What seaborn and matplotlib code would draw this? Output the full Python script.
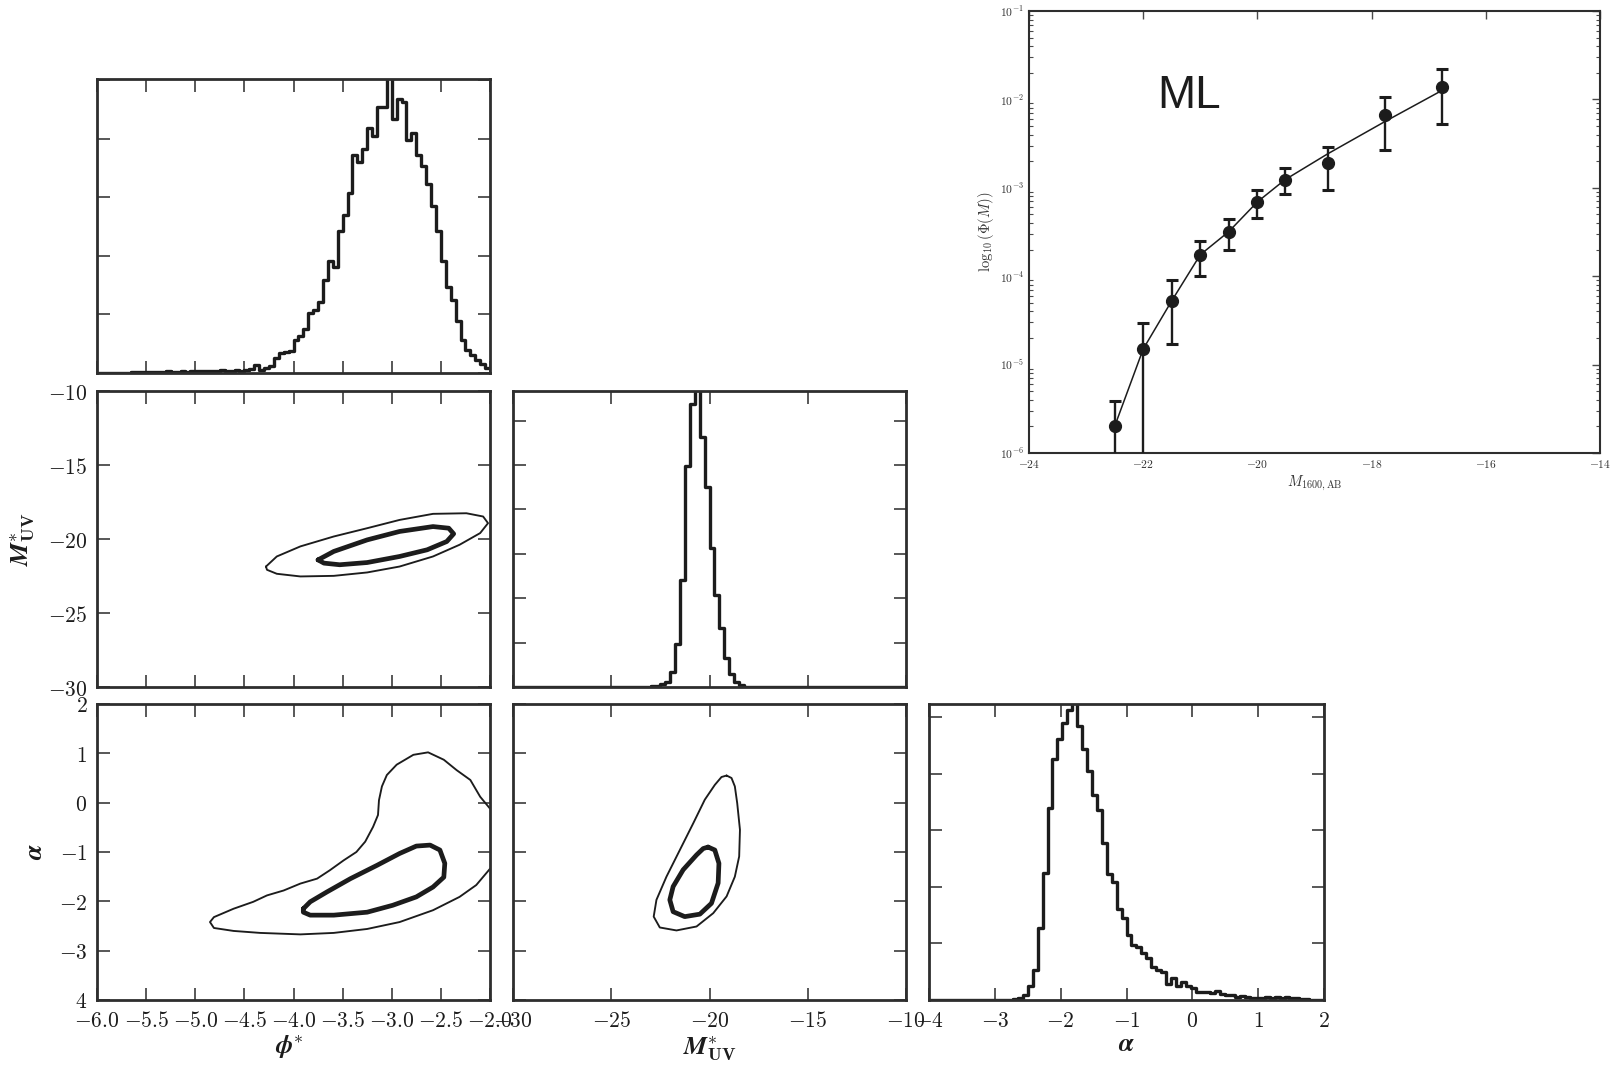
import numpy as np
import matplotlib
matplotlib.use("Agg")
import matplotlib.pyplot as plt
import matplotlib.ticker as mticker
import seaborn as sns

# ---------------- data ----------------
# 1D marginal histograms (80 bins each)
phi_range = (-6.0, -2.0)
phi_hist = [0, 0, 0, 0, 0, 0, 0,
            0.01, 0.02, 0.01, 0.02, 0.02, 0.01, 0.02, 0.03, 0.02, 0.02, 0.03, 0.02,
            0.03, 0.04, 0.03, 0.04, 0.03, 0.04, 0.05, 0.04, 0.04, 0.05, 0.04,
            0.05, 0.06, 0.14, 0.05, 0.08, 0.12, 0.26, 0.34, 0.36, 0.37,
            0.57, 0.64, 0.75, 1.02, 1.07, 1.22, 1.59, 1.92, 1.81, 2.42,
            2.70, 3.08, 3.73, 3.61, 3.82, 4.18, 4.05, 4.54, 4.54, 5.40,
            4.34, 4.67, 4.63, 3.98, 4.09, 3.73, 3.54, 3.22, 2.85, 2.42,
            1.92, 1.46, 1.25, 0.88, 0.57, 0.40, 0.30, 0.23, 0.16, 0.09]

muv_range = (-30.0, -10.0)
muv_hist = [0] * 26 + [0.01, 0.01, 0.02, 0.03, 0.06, 0.11, 0.34, 0.98, 2.42, 4.98,
                       6.38, 7.0, 5.64, 4.50, 3.14, 2.07, 1.32, 0.65, 0.30, 0.11,
                       0.04, 0.01, 0.01] + [0] * 31

alpha_range = (-4.0, 2.0)
alpha_hist = [0] * 17 + [0.01, 0.03, 0.09, 0.24, 0.53, 1.27, 2.25, 3.39, 4.25, 4.61,
                         4.90, 5.13, 5.5, 4.84, 4.44, 4.04, 3.63, 3.36, 2.77, 2.22,
                         2.09, 1.61, 1.45, 1.15, 0.97, 0.94, 0.83, 0.74, 0.58, 0.53,
                         0.50, 0.29, 0.38, 0.24, 0.31, 0.25, 0.21, 0.15, 0.15, 0.14,
                         0.12, 0.16, 0.10, 0.09, 0.08, 0.06, 0.07, 0.05, 0.04, 0.03,
                         0.035, 0.05, 0.03, 0.06, 0.04, 0.05, 0.035, 0.03, 0.01, 0.01] + [0] * 3

# 2D credible contours (outer = thin, inner = thick)
pm_outer_x = [-4.28, -4.17, -3.93, -3.59, -3.25, -2.92, -2.58, -2.24, -2.07, -2.02, -2.10,
              -2.31, -2.58, -2.92, -3.25, -3.59, -3.93, -4.17, -4.27]
pm_outer_y = [-21.86, -21.18, -20.50, -19.83, -19.27, -18.71, -18.30, -18.26, -18.48, -18.93,
              -19.60, -20.39, -21.18, -21.86, -22.26, -22.49, -22.53, -22.35, -22.08]
pm_inner_x = [-3.75, -3.59, -3.25, -2.92, -2.58, -2.42, -2.37, -2.44, -2.64, -2.92, -3.25, -3.53, -3.69]
pm_inner_y = [-21.41, -20.84, -20.06, -19.49, -19.16, -19.27, -19.65, -20.17, -20.73, -21.18,
              -21.59, -21.74, -21.63]

pa_outer_x = [-2.00, -2.10, -2.20, -2.34, -2.47, -2.63, -2.78, -2.95, -3.05, -3.10, -3.13,
              -3.14, -3.19, -3.27, -3.36, -3.49, -3.63, -3.76, -3.93, -4.10, -4.27, -4.41,
              -4.61, -4.81, -4.85, -4.81, -4.61, -4.34, -3.93, -3.59, -3.25, -2.92, -2.58,
              -2.31, -2.14, -2.00]
pa_outer_y = [-0.12, 0.12, 0.46, 0.66, 0.87, 1.02, 0.97, 0.77, 0.56, 0.33, 0.05,
              -0.25, -0.49, -0.79, -1.00, -1.17, -1.37, -1.54, -1.64, -1.78, -1.88, -2.01,
              -2.15, -2.32, -2.42, -2.54, -2.60, -2.64, -2.67, -2.64, -2.56, -2.42, -2.18,
              -1.91, -1.67, -1.34]
pa_inner_x = [-3.90, -3.83, -3.66, -3.42, -3.15, -2.92, -2.75, -2.61, -2.51, -2.46, -2.47,
              -2.58, -2.75, -2.99, -3.25, -3.59, -3.83, -3.90]
pa_inner_y = [-2.15, -2.01, -1.81, -1.54, -1.27, -1.03, -0.88, -0.86, -0.96, -1.23, -1.51,
              -1.71, -1.91, -2.08, -2.22, -2.28, -2.28, -2.22]

ma_outer_x = [-19.13, -18.88, -18.71, -18.59, -18.45, -18.49, -18.71, -19.13, -19.81, -20.66,
              -21.68, -22.53, -22.84, -22.70, -22.19, -21.51, -20.83, -20.24, -19.73, -19.39]
ma_outer_y = [0.55, 0.50, 0.33, -0.01, -0.55, -1.09, -1.50, -1.90, -2.24, -2.51,
              -2.59, -2.53, -2.31, -1.97, -1.50, -0.96, -0.42, 0.06, 0.36, 0.52]
ma_inner_x = [-20.07, -19.73, -19.52, -19.56, -19.90, -20.49, -21.26, -21.85, -22.02, -21.85,
              -21.34, -20.66, -20.32]
ma_inner_y = [-0.90, -0.96, -1.23, -1.63, -2.04, -2.26, -2.31, -2.21, -1.97, -1.70,
              -1.36, -1.06, -0.93]

# luminosity function (inset)
lf_mag = [-22.5, -22.0, -21.5, -21.0, -20.5, -20.0, -19.52, -18.77, -17.77, -16.77]
lf_phi = [2.0e-6, 1.5e-5, 5.27e-5, 1.75e-4, 3.2e-4, 6.93e-4, 1.23e-3, 1.9e-3, 6.67e-3, 1.37e-2]
lf_hi = [3.9e-6, 2.92e-5, 8.95e-5, 2.53e-4, 4.42e-4, 9.4e-4, 1.67e-3, 2.9e-3, 1.07e-2, 2.21e-2]
lf_lo = [1e-7, 1e-7, 1.71e-5, 1.01e-4, 1.99e-4, 4.5e-4, 8.47e-4, 9.4e-4, 2.68e-3, 5.24e-3]
lf_model = [2.0e-6, 1.5e-5, 5.27e-5, 1.75e-4, 3.2e-4, 6.93e-4, 1.23e-3, 2.42e-3, 5.6e-3, 1.26e-2]

# tick labels
phi_ticks = [-6.0, -5.5, -5.0, -4.5, -4.0, -3.5, -3.0, -2.5, -2.0]
phi_labels = ["$-6.0$", "$-5.5$", "$-5.0$", "$-4.5$", "$-4.0$", "$-3.5$", "$-3.0$", "$-2.5$", "$-2.0$"]
muv_ticks = [-30, -25, -20, -15, -10]
muv_labels = ["$-30$", "$-25$", "$-20$", "$-15$", "$-10$"]
alpha_ticks = [-4, -3, -2, -1, 0, 1, 2]
alpha_xlabels = ["$-4$", "$-3$", "$-2$", "$-1$", "$0$", "$1$", "$2$"]
alpha_ylabels = ["$4$", "$-3$", "$-2$", "$-1$", "$0$", "$1$", "$2$"]
lf_xticks = [-24, -22, -20, -18, -16, -14]
lf_xlabels = ["$-24$", "$-22$", "$-20$", "$-18$", "$-16$", "$-14$"]
lf_yticks = [1e-6, 1e-5, 1e-4, 1e-3, 1e-2, 1e-1]
lf_ylabels = ["$10^{-6}$", "$10^{-5}$", "$10^{-4}$", "$10^{-3}$", "$10^{-2}$", "$10^{-1}$"]

# ---------------- style ----------------
sns.set_style("white")
plt.rcParams["font.family"] = ["DejaVu Serif"]
plt.rcParams["mathtext.fontset"] = "cm"

INK = "#1c1c1c"
SPINE = "#2e2e2e"
TICK = "#4a4a4a"
FS = 15.5

fig = plt.figure(figsize=(16.18, 10.65), dpi=100)
W, H = 1618.0, 1065.0


def add_axes(l, t, r, b):
    return fig.add_axes([l / W, 1 - b / H, (r - l) / W, (b - t) / H])


col = [(97, 490), (513, 906), (929, 1324)]
row = [(79, 373), (391, 687), (704, 1000)]

ax_phi = add_axes(col[0][0], row[0][0], col[0][1], row[0][1])
ax_pm = add_axes(col[0][0], row[1][0], col[0][1], row[1][1])
ax_muv = add_axes(col[1][0], row[1][0], col[1][1], row[1][1])
ax_pa = add_axes(col[0][0], row[2][0], col[0][1], row[2][1])
ax_ma = add_axes(col[1][0], row[2][0], col[1][1], row[2][1])
ax_alpha = add_axes(col[2][0], row[2][0], col[2][1], row[2][1])
ax_lf = add_axes(1029, 11, 1600, 453)


def style_axes(ax, lw=2.0, length=9):
    for s in ax.spines.values():
        s.set_linewidth(lw)
        s.set_color(SPINE)
        s.set_visible(True)
    ax.tick_params(which="major", direction="in", length=length, width=1.3, color=TICK,
                   top=True, right=True, bottom=True, left=True,
                   labelsize=FS, labelcolor=INK, pad=7)


def draw_hist(ax, values, rng, ylim):
    n = len(values)
    width = (rng[1] - rng[0]) / n
    centers = rng[0] + width * (np.arange(n) + 0.5)
    sns.histplot(x=centers, weights=np.asarray(values, float), bins=n, binrange=rng,
                 element="step", fill=False, color=INK, linewidth=2.4, ax=ax)
    ax.set_xlim(rng)
    ax.set_ylim(0, ylim)
    ax.set_xlabel("")
    ax.set_ylabel("")


def draw_contour(ax, xs, ys, lw, closed=True):
    xs = list(xs)
    ys = list(ys)
    if closed:
        xs = xs + xs[:1]
        ys = ys + ys[:1]
    sns.lineplot(x=xs, y=ys, sort=False, estimator=None, color=INK, linewidth=lw,
                 ax=ax, solid_joinstyle="round", solid_capstyle="round")


# ---- marginal histograms ----
draw_hist(ax_phi, phi_hist, phi_range, 5.02)
ax_phi.set_xticks(phi_ticks)
ax_phi.set_yticks([0, 1, 2, 3, 4, 5])

draw_hist(ax_muv, muv_hist, muv_range, 6.67)
ax_muv.set_xticks(muv_ticks)
ax_muv.set_yticks([0, 1, 2, 3, 4, 5, 6])

draw_hist(ax_alpha, alpha_hist, alpha_range, 5.23)
ax_alpha.set_xticks(alpha_ticks)
ax_alpha.set_xticklabels(alpha_xlabels)
ax_alpha.set_yticks([0, 1, 2, 3, 4, 5])

for ax in (ax_phi, ax_muv):
    ax.set_xticklabels([])
for ax in (ax_phi, ax_muv, ax_alpha):
    ax.set_yticklabels([])

# ---- 2D contours ----
OUT_LW, IN_LW = 1.35, 3.4
draw_contour(ax_pm, pm_outer_x, pm_outer_y, OUT_LW)
draw_contour(ax_pm, pm_inner_x, pm_inner_y, IN_LW)
ax_pm.set_xlim(phi_range)
ax_pm.set_ylim(-30, -10)
ax_pm.set_xticks(phi_ticks)
ax_pm.set_xticklabels([])
ax_pm.set_yticks(muv_ticks)
ax_pm.set_yticklabels(muv_labels)

draw_contour(ax_pa, pa_outer_x, pa_outer_y, OUT_LW, closed=False)
draw_contour(ax_pa, pa_inner_x, pa_inner_y, IN_LW)
ax_pa.set_xlim(phi_range)
ax_pa.set_ylim(-4, 2)
ax_pa.set_xticks(phi_ticks)
ax_pa.set_xticklabels(phi_labels)
ax_pa.set_yticks(alpha_ticks)
ax_pa.set_yticklabels(alpha_ylabels)

draw_contour(ax_ma, ma_outer_x, ma_outer_y, OUT_LW)
draw_contour(ax_ma, ma_inner_x, ma_inner_y, IN_LW)
ax_ma.set_xlim(muv_range)
ax_ma.set_ylim(-4, 2)
ax_ma.set_xticks(muv_ticks)
ax_ma.set_xticklabels(muv_labels)
ax_ma.set_yticks(alpha_ticks)
ax_ma.set_yticklabels([])

for ax in (ax_phi, ax_pm, ax_muv, ax_pa, ax_ma, ax_alpha):
    style_axes(ax)
    ax.set_xlabel("")
    ax.set_ylabel("")

# axis labels
LFS = 18.5
MUV = r"$\boldsymbol{M}^{*}_{\mathbf{UV}}$"
ax_pm.set_ylabel(MUV, fontsize=LFS, color=INK)
ax_pm.yaxis.set_label_coords(-0.152, 0.5)
ax_pa.set_ylabel(r"$\boldsymbol{\alpha}$", fontsize=LFS, color=INK)
ax_pa.yaxis.set_label_coords(-0.128, 0.5)
ax_pa.set_xlabel(r"$\boldsymbol{\phi}^{*}$", fontsize=LFS, color=INK)
ax_pa.xaxis.set_label_coords(0.49, -0.115)
ax_ma.set_xlabel(MUV, fontsize=LFS, color=INK)
ax_ma.xaxis.set_label_coords(0.5, -0.115)
ax_alpha.set_xlabel(r"$\boldsymbol{\alpha}$", fontsize=LFS, color=INK)
ax_alpha.xaxis.set_label_coords(0.5, -0.105)

# ---- inset luminosity function ----
sns.lineplot(x=lf_mag, y=lf_model, color=INK, linewidth=1.1, ax=ax_lf, sort=False,
             estimator=None)
phi_arr = np.array(lf_phi)
yerr = [phi_arr - np.array(lf_lo), np.array(lf_hi) - phi_arr]
ax_lf.errorbar(lf_mag, lf_phi, yerr=yerr, fmt="o", color=INK, ms=8.5, elinewidth=1.7,
               capsize=4.2, capthick=2.2, zorder=3)
ax_lf.set_yscale("log")
ax_lf.set_xlim(-24, -14)
ax_lf.set_ylim(1e-6, 1e-1)
ax_lf.set_xticks(lf_xticks)
ax_lf.set_xticklabels(lf_xlabels)
ax_lf.set_yticks(lf_yticks)
ax_lf.set_yticklabels(lf_ylabels)
ax_lf.yaxis.set_minor_locator(mticker.LogLocator(base=10, subs=np.arange(2, 10), numticks=20))
ax_lf.yaxis.set_minor_formatter(mticker.NullFormatter())
for s in ax_lf.spines.values():
    s.set_linewidth(1.5)
    s.set_color(SPINE)
    s.set_visible(True)
ax_lf.tick_params(which="major", direction="in", length=6, width=1.0, color=TICK,
                  top=True, right=True, labelsize=8.3, labelcolor="#333333", pad=3.5)
ax_lf.tick_params(which="minor", direction="in", length=3, width=0.8, color=TICK,
                  top=True, right=True, left=True)
ax_lf.set_xlabel(r"$M_{1600,\mathrm{AB}}$", fontsize=10.5, color="#333333", labelpad=2)
ax_lf.set_ylabel(r"$\log_{10}(\Phi(M))$", fontsize=10.5, color="#333333", labelpad=3)
ax_lf.text(-21.76, 8.0e-3, "ML", fontsize=33, family=["Liberation Sans", "DejaVu Sans"],
           color=INK, ha="left", va="baseline")

fig.savefig("out.png", dpi=100)
